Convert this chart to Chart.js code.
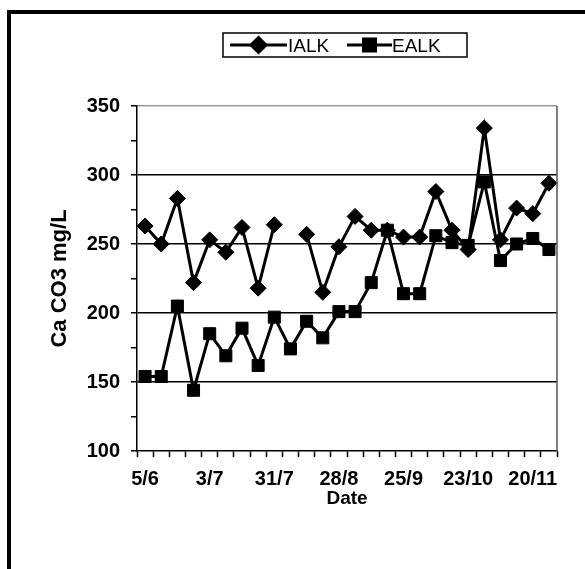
<!DOCTYPE html>
<html>
<head>
<meta charset="utf-8">
<script src="https://cdn.jsdelivr.net/npm/chart.js@4/dist/chart.umd.min.js"></script>
<style>
html,body{margin:0;padding:0;background:#fff;}
#wrap{position:relative;width:585px;height:569px;}
canvas{display:block;}
</style>
</head>
<body>
<div id="wrap"><canvas id="c" width="585" height="569"></canvas></div>
<script>
const categories = ["5/6","12/6","19/6","26/6","3/7","10/7","17/7","24/7","31/7","7/8","14/8","21/8","28/8","4/9","11/9","18/9","25/9","2/10","9/10","16/10","23/10","30/10","6/11","13/11","20/11","27/11"];
const ialk = [263, 250, 283, 222, 253, 244, 262, 218, 264, null, 257, 215, 248, 270, 260, 260, 255, 255, 288, 260, 246, 334, 253, 276, 272, 294];
const ealk = [154, 154, 205, 144, 185, 169, 189, 162, 197, 174, 194, 182, 201, 201, 222, 260, 214, 214, 256, 251, 249, 295, 238, 250, 254, 246];
const yTicks = [100, 150, 200, 250, 300, 350];
const seriesNames = ["IALK", "EALK"];

const FONT = "'Liberation Sans', Arial, sans-serif";

const decor = {
  id: 'decor',
  beforeDraw(chart) {
    const ctx = chart.ctx;
    ctx.save();
    ctx.fillStyle = '#fff';
    ctx.fillRect(0, 0, chart.width, chart.height);
    ctx.fillStyle = '#000';
    ctx.fillRect(7, 10, 585 - 7, 4);
    ctx.fillRect(7, 10, 4, 569 - 10);
    ctx.restore();
  },
  afterDraw(chart) {
    const ctx = chart.ctx;
    const a = chart.chartArea;
    ctx.save();
    ctx.strokeStyle = '#555';
    ctx.lineWidth = 1.5;
    ctx.beginPath();
    ctx.moveTo(a.right, a.top);
    ctx.lineTo(a.right, a.bottom);
    ctx.stroke();
    // legend
    const bx = 223, by = 33, bw = 244, bh = 24;
    ctx.strokeStyle = '#000';
    ctx.lineWidth = 1.5;
    ctx.strokeRect(bx, by, bw, bh);
    const ly = 45;
    const items = [
      {x0: 230, x1: 287, tx: 288, style: 'rectRot', r: 7.5},
      {x0: 347, x1: 392, tx: 392, style: 'rect', r: 8.5}
    ];
    ctx.font = "19px " + FONT;
    ctx.textBaseline = 'middle';
    ctx.textAlign = 'left';
    items.forEach((it, i) => {
      ctx.strokeStyle = '#000';
      ctx.lineWidth = 3;
      ctx.beginPath();
      ctx.moveTo(it.x0, ly);
      ctx.lineTo(it.x1, ly);
      ctx.stroke();
      ctx.fillStyle = '#000';
      Chart.helpers.drawPoint(ctx, {pointStyle: it.style, radius: it.r, borderWidth: 1}, (it.x0 + it.x1) / 2, ly);
      ctx.fillStyle = '#000';
      ctx.fillText(seriesNames[i], it.tx, ly + 2);
    });
    ctx.restore();
  }
};

new Chart(document.getElementById('c'), {
  type: 'line',
  data: {
    labels: categories,
    datasets: [
      {
        label: seriesNames[0],
        data: ialk,
        borderColor: '#000',
        backgroundColor: '#000',
        borderWidth: 3,
        pointStyle: 'rectRot',
        pointRadius: 8,
        pointBorderWidth: 1,
        spanGaps: false,
        tension: 0
      },
      {
        label: seriesNames[1],
        data: ealk,
        borderColor: '#000',
        backgroundColor: '#000',
        borderWidth: 3,
        pointStyle: 'rect',
        pointRadius: 8.5,
        pointBorderWidth: 1,
        tension: 0
      }
    ]
  },
  options: {
    responsive: false,
    devicePixelRatio: 1,
    animation: false,
    events: [],
    layout: {padding: {left: 10, right: 28, top: 106, bottom: 58}},
    plugins: {
      legend: {display: false},
      tooltip: {enabled: false}
    },
    scales: {
      x: {
        type: 'category',
        offset: true,
        afterFit(s) { s.height = 60; },
        grid: {
          offset: true,
          drawOnChartArea: false,
          drawTicks: true,
          tickLength: 6,
          tickColor: '#000',
          tickWidth: 1.5
        },
        border: {display: true, color: '#000', width: 1.5},
        ticks: {
          autoSkip: false,
          maxRotation: 0,
          padding: 10,
          color: '#000',
          font: {family: FONT, size: 20, weight: 'bold'},
          callback(v, i) { return i % 4 === 0 ? categories[i] : ''; }
        },
        title: {
          display: true,
          text: 'Date',
          color: '#000',
          font: {family: FONT, size: 19, weight: 'bold'},
          padding: {top: 0, bottom: 1}
        }
      },
      y: {
        min: yTicks[0],
        max: yTicks[yTicks.length - 1],
        afterFit(s) { s.width = 127; },
        grid: {
          color(c) {
            const v = c.tick.value;
            if (v === 350) return '#999';
            if (v % 50 === 0 && v !== 100) return '#000';
            return 'rgba(0,0,0,0)';
          },
          lineWidth: 1.5,
          tickColor: '#000',
          tickLength: 6,
          tickWidth: 1.5
        },
        border: {display: true, color: '#000', width: 1.5},
        ticks: {
          stepSize: 25,
          padding: 11,
          color: '#000',
          font: {family: FONT, size: 20, weight: 'bold'},
          callback(v) { return yTicks.includes(v) ? String(v) : ''; }
        },
        title: {
          display: true,
          text: 'Ca CO3 mg/L',
          color: '#000',
          font: {family: FONT, size: 22, weight: 'bold'},
          padding: {top: 37, bottom: 0}
        }
      }
    }
  },
  plugins: [decor]
});
</script>
</body>
</html>
